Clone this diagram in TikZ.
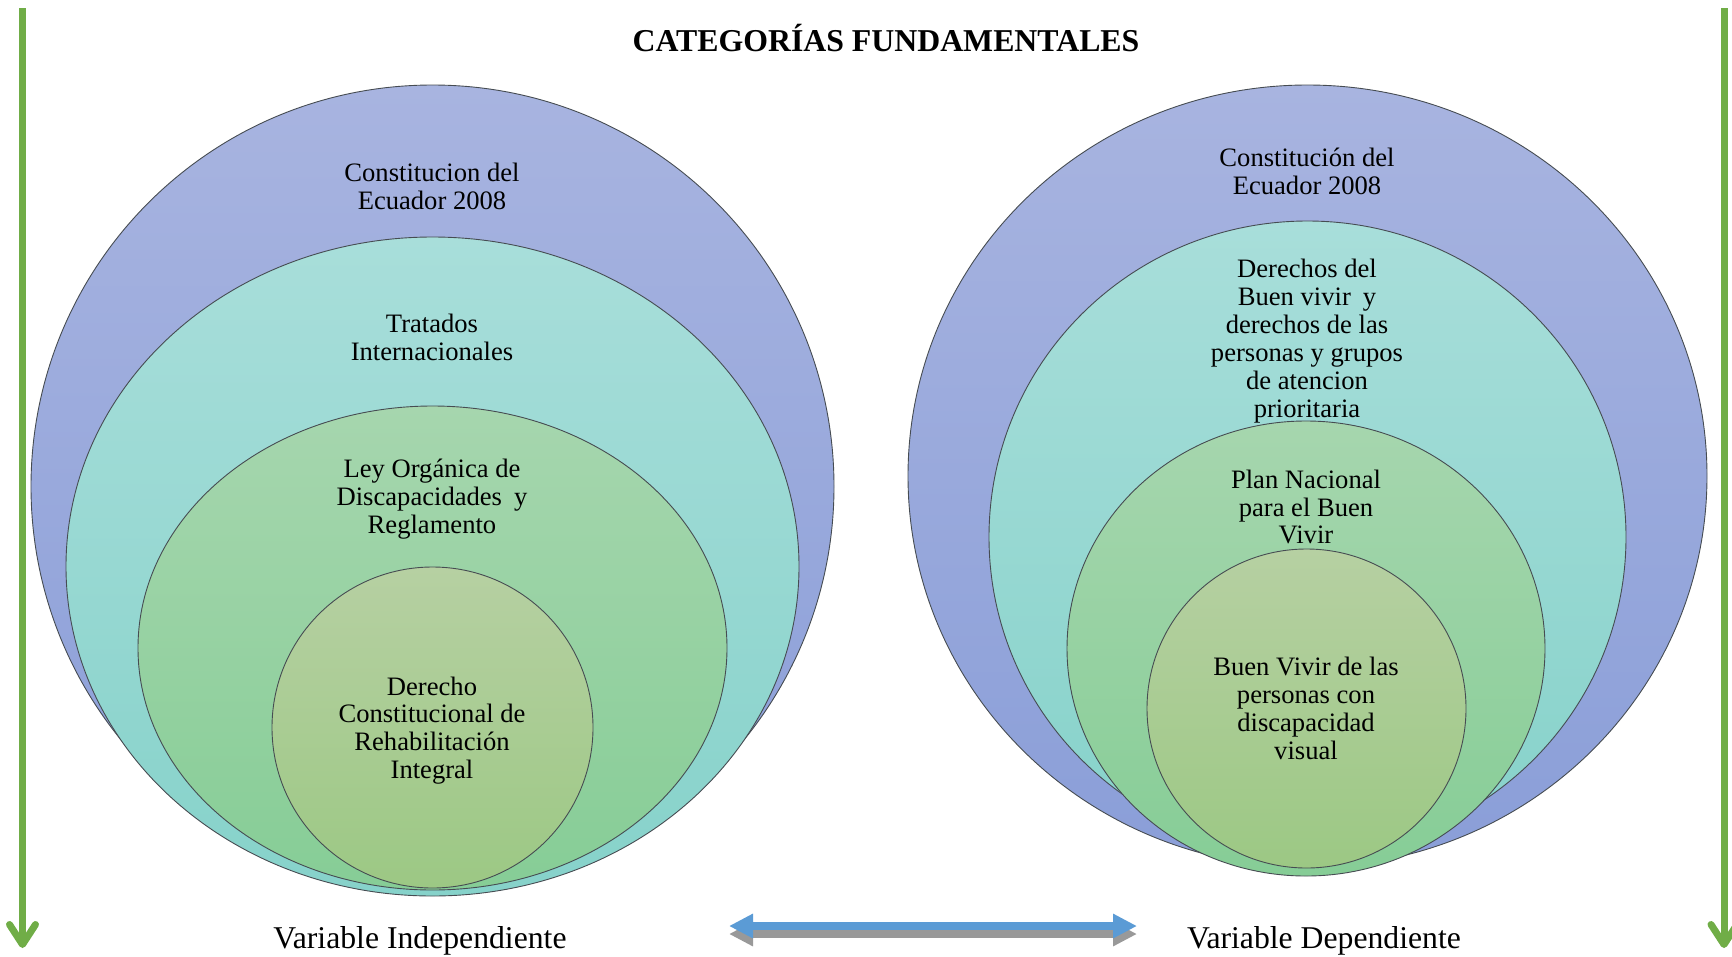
\documentclass[tikz,border=0pt]{standalone}
\usepackage{fontspec}
\setmainfont{Liberation Serif}
\usetikzlibrary{shapes.geometric,arrows.meta}
\definecolor{edgec}{RGB}{70,76,82}
\definecolor{blueT}{RGB}{168,180,224}
\definecolor{blueB}{RGB}{138,158,216}
\definecolor{tealT}{RGB}{168,222,218}
\definecolor{tealB}{RGB}{134,210,202}
\definecolor{grnT}{RGB}{166,214,174}
\definecolor{grnB}{RGB}{134,205,150}
\definecolor{inT}{RGB}{182,208,162}
\definecolor{inB}{RGB}{156,200,132}
\definecolor{arrowgreen}{RGB}{112,173,71}
\definecolor{arrowblue}{RGB}{91,155,213}
\definecolor{shadowgray}{RGB}{153,153,153}
\begin{document}
\begin{tikzpicture}[x=1pt,y=-1pt,
  ring/.style={shape=ellipse, draw=edgec, line width=0.9pt, inner sep=0pt},
  blring/.style={ring, top color=blueT, bottom color=blueB},
  tlring/.style={ring, top color=tealT, bottom color=tealB},
  grring/.style={ring, top color=grnT, bottom color=grnB},
  inring/.style={ring, top color=inT, bottom color=inB},
  txt/.style={font=\fontsize{26.6}{27.9}\selectfont, align=center, inner sep=0pt, text=black},
  lbl/.style={font=\fontsize{31.7}{36}\selectfont, inner sep=0pt, anchor=base},
  garrow/.style={draw=arrowgreen, line width=7pt, -{Straight Barb[length=20pt,width=26pt,round]}},
  barrow/.style={line width=8pt, {Triangle[length=24pt,width=23pt]}-{Triangle[length=24pt,width=23pt]}}
]
\useasboundingbox (0,0) rectangle (1732,956);

% left set
\node[blring, minimum width=803pt, minimum height=803pt] (L1) at (432.5,486.5) {};
\node[tlring, minimum width=733pt, minimum height=659pt] (L2) at (432.5,566.5) {};
\node[grring, minimum width=589pt, minimum height=484pt] (L3) at (432.5,648) {};
\node[inring, minimum width=321pt, minimum height=321pt] (L4) at (432.5,727.5) {};

\node[txt] (tL1) at (432,186) {Constitucion del\\Ecuador 2008};
\node[txt] (tL2) at (432,337.5) {Tratados\\Internacionales};
\node[txt] (tL3) at (432,499.5) {Ley Orgánica de\\Discapacidades\hspace{12pt}y\\Reglamento};
\node[txt] (tL4) at (432,730.5) {Derecho\\Constitucional de\\Rehabilitación\\Integral};

% right set
\node[blring, minimum width=799pt, minimum height=782pt] (R1) at (1307.5,476) {};
\node[tlring, minimum width=637pt, minimum height=632pt] (R2) at (1307.5,537) {};
\node[grring, minimum width=478pt, minimum height=455pt] (R3) at (1306,648.5) {};
\node[inring, minimum width=319pt, minimum height=319pt] (R4) at (1306.5,708.5) {};

\node[txt] (tR1) at (1307,171) {Constitución del\\Ecuador 2008};
\node[txt] (tR2) at (1307,341) {Derechos del\\Buen vivir\hspace{12pt}y\\derechos de las\\personas y grupos\\de atencion\\prioritaria};
\node[txt] (tR3) at (1306,507) {Plan Nacional\\para el Buen\\Vivir};
\node[txt] (tR4) at (1306,708.5) {Buen Vivir de las\\personas con\\discapacidad\\visual};

% title and labels
\node[lbl, font=\bfseries\fontsize{31.8}{36}\selectfont] (title) at (886,51) {CATEGORÍAS FUNDAMENTALES};
\node[lbl] (vi) at (420,948) {Variable Independiente};
\node[lbl] (vd) at (1324,948) {Variable Dependiente};

% green arrows
\coordinate (gl1) at (22.5,8);
\coordinate (gl2) at (22.5,948);
\coordinate (gr1) at (1724,8);
\coordinate (gr2) at (1724,948);
\draw[garrow] (gl1) -- (gl2);
\draw[garrow] (gr1) -- (gr2);

% double arrow with shadow
\coordinate (bl) at (729,926);
\coordinate (br) at (1137,926);
\draw[barrow, draw=shadowgray, fill=shadowgray, transform canvas={yshift=-8pt}] (bl) -- (br);
\draw[barrow, draw=arrowblue, fill=arrowblue] (bl) -- (br);
\end{tikzpicture}
\end{document}
